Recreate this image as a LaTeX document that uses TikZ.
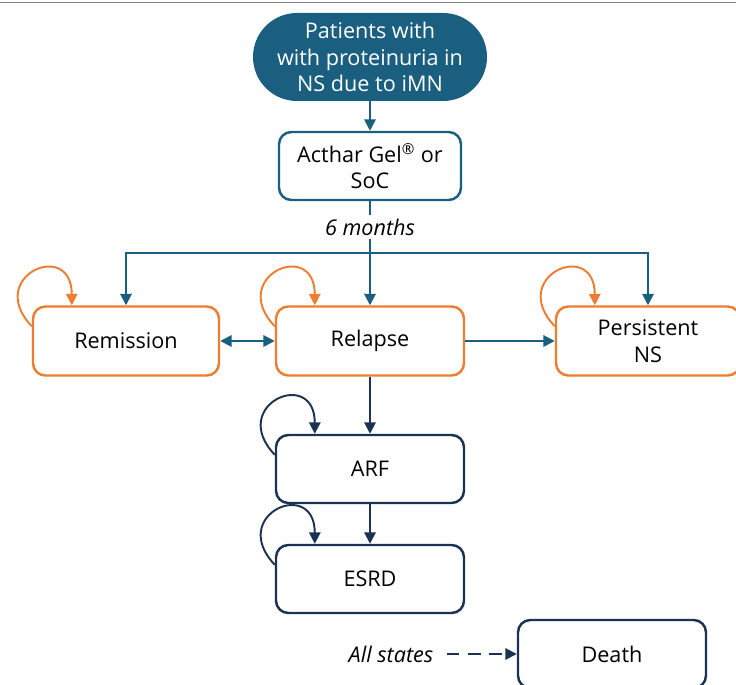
\documentclass[tikz,border=0pt]{standalone}
\usepackage{fontspec}
\setmainfont{Open Sans}
\usetikzlibrary{arrows.meta}
\usepackage{xcolor}

\definecolor{teal}{HTML}{1A5E80}
\definecolor{orng}{HTML}{ED7D31}
\definecolor{navy}{HTML}{1B3350}

\tikzset{
  state/.style={draw,line width=1.4pt,rounded corners=7pt,fill=white,align=center,
    minimum width=3.76cm,minimum height=1.38cm,font=\fontsize{12.3}{15}\selectfont},
  arr/.style={line width=1.1pt,-{Triangle[length=6.5pt,width=6.5pt]}},
}

\begin{document}
\begin{tikzpicture}
  \useasboundingbox (0,0) rectangle (14.72,13.68);
  \draw[gray,line width=1pt] (0,13.63) -- (14.72,13.63);

  \node[fill=teal,text=white,rounded corners=0.88cm,align=center,minimum width=4.68cm,
    minimum height=1.76cm,font=\fontsize{12.3}{15}\selectfont] (Pat) at (7.4,12.54)
    {Patients with\\with proteinuria in\\NS due to iMN};
  \node[state,draw=teal,minimum width=3.64cm,minimum height=1.36cm] (Act) at (7.4,10.36)
    {Acthar Gel\textsuperscript{®} or\\SoC};
  \node[font=\fontsize{12.3}{15}\selectfont\itshape,inner sep=2pt] (Mo) at (7.4,9.14) {6 months};
  \coordinate (Br) at (7.4,8.62);

  \node[state,draw=orng,minimum width=3.72cm] (Rem) at (2.52,6.86) {Remission};
  \node[state,draw=orng] (Rel) at (7.4,6.86) {Relapse};
  \node[state,draw=orng,minimum width=3.68cm] (Per) at (12.96,6.86) {Persistent\\NS};

  \node[state,draw=navy,minimum height=1.36cm] (ARF) at (7.4,4.3) {ARF};
  \node[state,draw=navy,minimum height=1.36cm] (ESRD) at (7.4,2.1) {ESRD};
  \node[state,draw=navy,minimum height=1.36cm] (De) at (12.24,0.6) {Death};
  \node[font=\fontsize{12.3}{15}\selectfont\itshape,inner sep=2pt] (All) at (7.82,0.6) {All states};

  \draw[arr,draw=teal] (Pat) -- (Act);
  \draw[line width=1.1pt,draw=teal] (Act) -- (Mo);
  \draw[arr,draw=teal] (Mo) -- (Rel);
  \draw[arr,draw=teal] (Br) -| (Rem.north);
  \draw[arr,draw=teal] (Br) -| (Per.north);
  \draw[arr,{Triangle[length=6.5pt,width=6.5pt]}-{Triangle[length=6.5pt,width=6.5pt]},draw=teal] (Rem) -- (Rel);
  \draw[arr,draw=teal] (Rel) -- (Per);

  \draw[arr,draw=navy] (Rel) -- (ARF);
  \draw[arr,draw=navy] (ARF) -- (ESRD);
  \draw[arr,draw=navy,dash pattern=on 7pt off 5pt,shorten <=0.2cm] (All) -- (De);

  % self loops
  \foreach \n/\c in {Rem/orng,Rel/orng,Per/orng,ARF/navy,ESRD/navy}
    \draw[arr,draw=\c] ([yshift=-0.42cm]\n.north west)
      .. controls +(-0.95,1.0) and +(0,1.34) .. ([xshift=0.8cm]\n.north west);

\end{tikzpicture}
\end{document}
